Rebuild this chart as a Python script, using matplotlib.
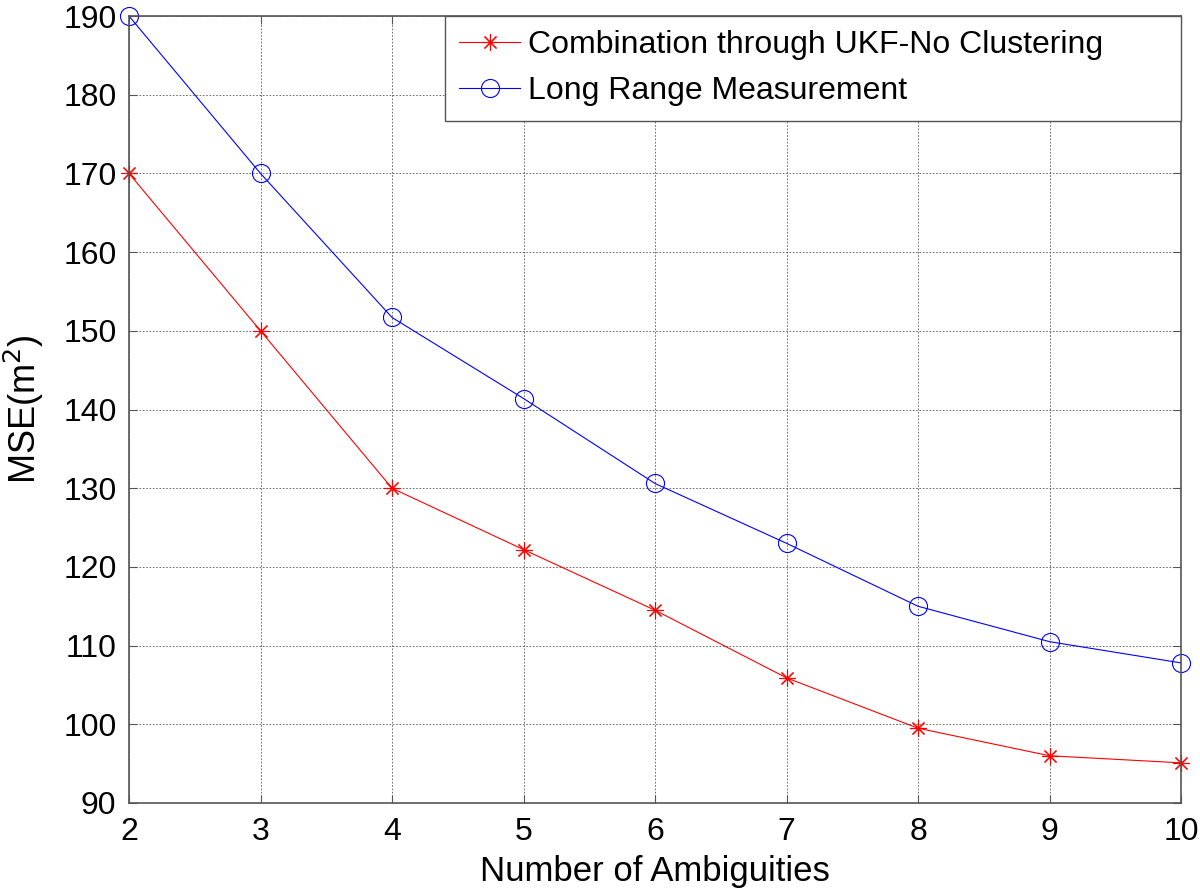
#!/usr/bin/env python3

import numpy as np
import matplotlib
matplotlib.use( 'Agg' )
import matplotlib.pyplot as plt

plt.rcParams['font.family'] = [ 'Liberation Sans', 'DejaVu Sans' ]

ambiguities = [ 2, 3, 4, 5, 6, 7, 8, 9, 10 ]
mse_ukf     = [ 170.0, 150.0, 130.0, 122.2, 114.5, 105.9, 99.5, 96.0, 95.1 ]
mse_long    = [ 190.0, 170.0, 151.7, 141.4, 130.6, 123.0, 115.0, 110.5, 107.8 ]

labels = [ 'Combination through UKF-No Clustering', 'Long Range Measurement' ]

fig = plt.figure( figsize = ( 12.0, 8.92 ), dpi = 100 )
ax  = fig.add_axes( [ 0.1075, 0.0998, 0.8767, 0.8822 ] )

ax.plot( ambiguities, mse_ukf, c = '#ff0000', lw = 0.8,
         marker = ( 8, 2, 0 ), ms = 12, mew = 0.8, label = labels[0],
         clip_on = False )
ax.plot( ambiguities, mse_long, c = '#0000ff', lw = 0.8,
         marker = 'o', ms = 13, mfc = 'none', mew = 0.8, label = labels[1],
         clip_on = False )

ax.set_xlim( 2, 10 )
ax.set_ylim( 90, 190 )
ax.set_xticks( ambiguities )
ax.set_yticks( np.arange( 90, 191, 10 ) )

ax.grid( True, color = '#555555', ls = ( 0, ( 2, 2 ) ), lw = 0.6 )
ax.tick_params( direction = 'in', length = 6, width = 0.8, color = '#555555',
                top = True, right = True, labelsize = 23 )
ax.tick_params( axis = 'x', pad = 10 )
ax.tick_params( axis = 'y', pad = 9 )
for sp in ax.spines.values():
    sp.set_color( '#555555' )
    sp.set_linewidth( 1.2 )

ax.set_xlabel( 'Number of Ambiguities', fontsize = 25, labelpad = 6 )
ax.set_ylabel( r'MSE(m$^2$)', fontsize = 26 )
ax.yaxis.set_label_coords( -0.079, 0.5 )

leg = ax.legend( loc = 'upper right', bbox_to_anchor = ( 0.3004, 0.0, 0.6996, 1.0 ),
                 mode = 'expand', borderaxespad = 0, fancybox = False,
                 framealpha = 1, edgecolor = '#555555', fontsize = 23,
                 handlelength = 1.9, handletextpad = 0.25, labelspacing = 0.5,
                 borderpad = 0.45 )
leg.get_frame().set_linewidth( 1.0 )

plt.savefig( 'out.png', dpi = 100 )
